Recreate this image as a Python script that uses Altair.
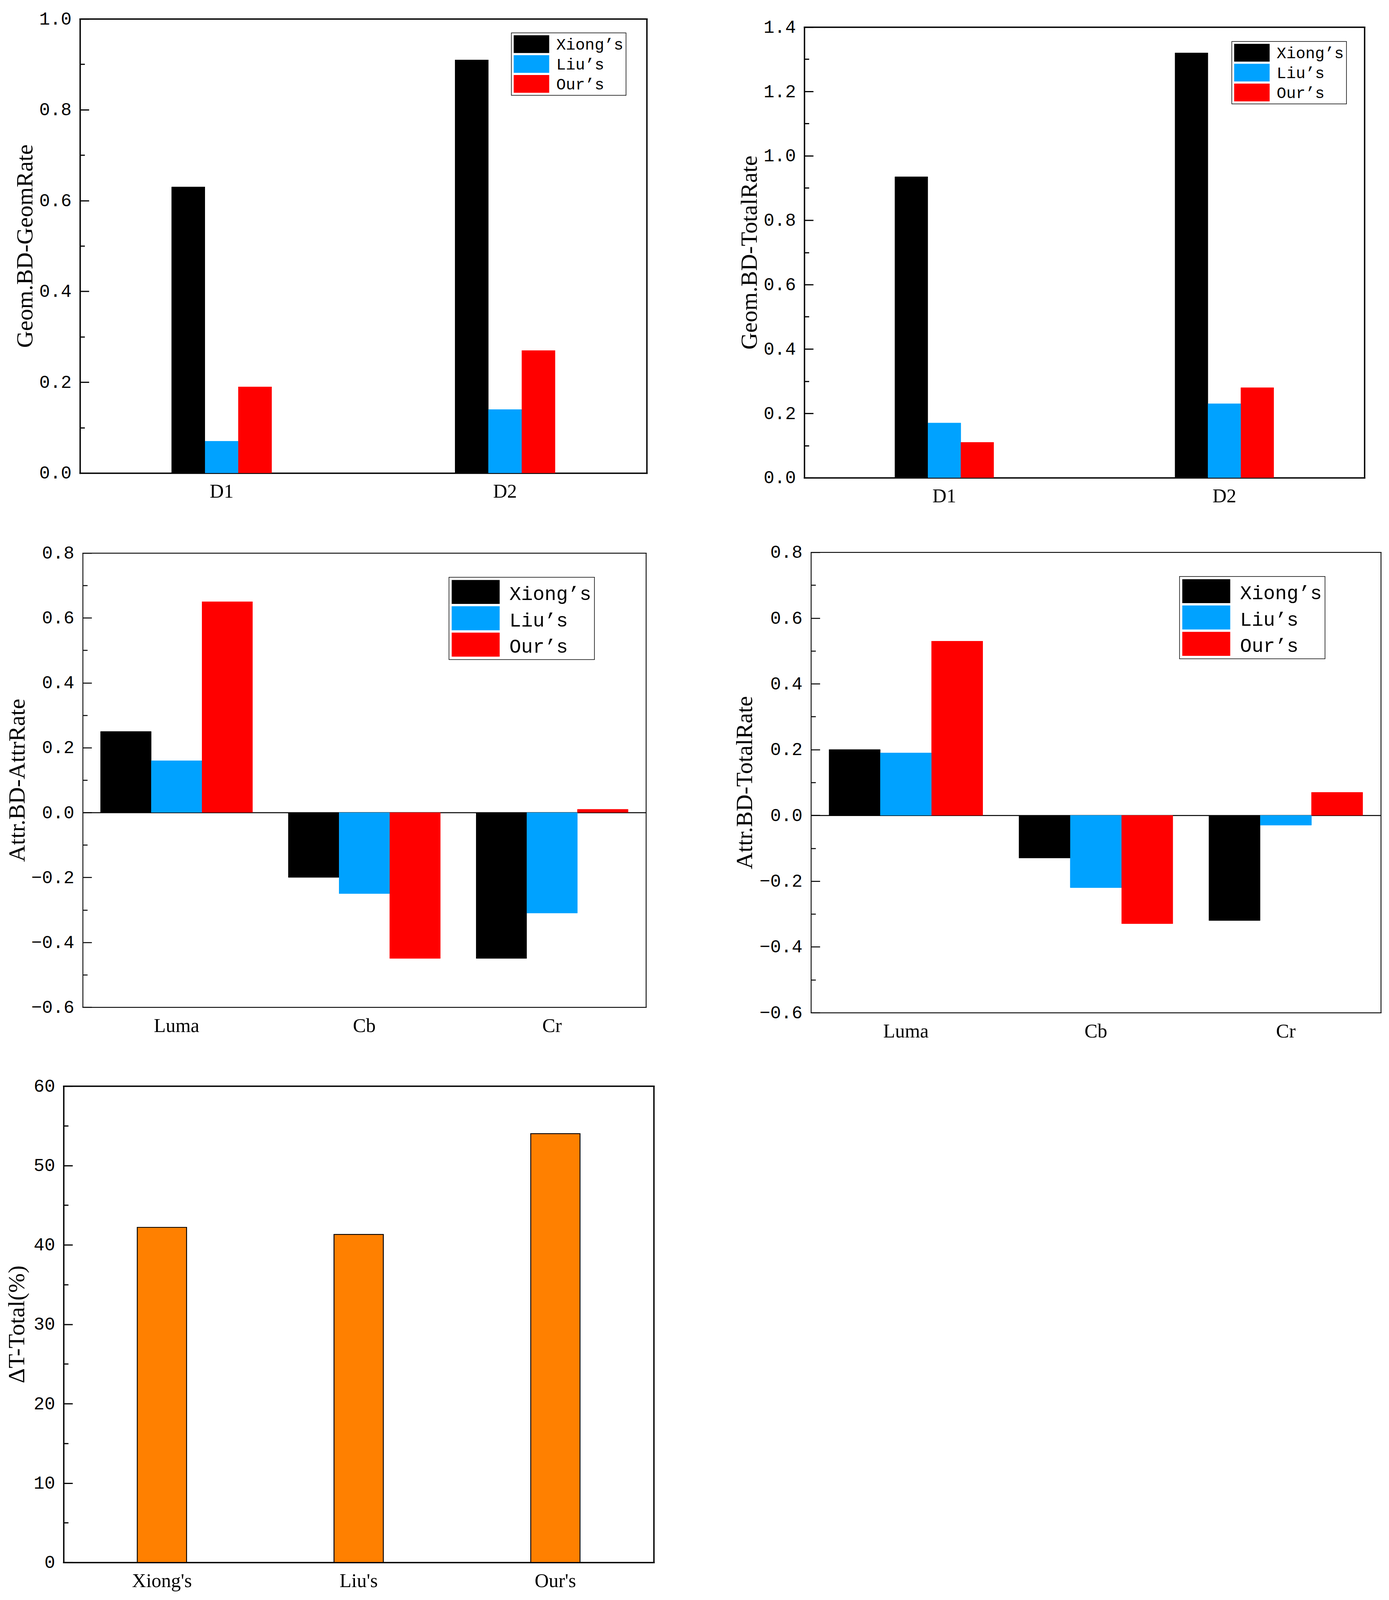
import altair as alt
import pandas as pd

# ---------------- data ----------------
methods = ["Xiong’s", "Liu’s", "Our’s"]
method_colors = ["#000000", "#00A2FF", "#FF0000"]

geom_cats = ["D1", "D2"]
geom_rate_xiong = [0.63, 0.91]
geom_rate_liu = [0.07, 0.14]
geom_rate_our = [0.19, 0.27]

geom_total_xiong = [0.935, 1.32]
geom_total_liu = [0.17, 0.23]
geom_total_our = [0.11, 0.28]

attr_cats = ["Luma", "Cb", "Cr"]
attr_rate_xiong = [0.25, -0.20, -0.45]
attr_rate_liu = [0.16, -0.25, -0.31]
attr_rate_our = [0.65, -0.45, 0.01]

attr_total_xiong = [0.20, -0.13, -0.32]
attr_total_liu = [0.19, -0.22, -0.03]
attr_total_our = [0.53, -0.33, 0.07]

total_methods = ["Xiong's", "Liu's", "Our's"]
delta_t_total = [42.2, 41.3, 54.0]

# axis tick values
ticks_10 = [0.0, 0.1, 0.2, 0.3, 0.4, 0.5, 0.6, 0.7, 0.8, 0.9, 1.0]
major_10 = [0.0, 0.2, 0.4, 0.6, 0.8, 1.0]
ticks_14 = [0.0, 0.1, 0.2, 0.3, 0.4, 0.5, 0.6, 0.7, 0.8, 0.9, 1.0, 1.1, 1.2, 1.3, 1.4]
major_14 = [0.0, 0.2, 0.4, 0.6, 0.8, 1.0, 1.2, 1.4]
ticks_attr = [-0.6, -0.5, -0.4, -0.3, -0.2, -0.1, 0.0, 0.1, 0.2, 0.3, 0.4, 0.5, 0.6, 0.7, 0.8]
major_attr = [-0.6, -0.4, -0.2, 0.0, 0.2, 0.4, 0.6, 0.8]
ticks_pct = [0, 5, 10, 15, 20, 25, 30, 35, 40, 45, 50, 55, 60]
major_pct = [0, 10, 20, 30, 40, 50, 60]

# ---------------- layout (pixel frame of each panel on the canvas) ----------------
W, H = 3545, 4090
FRAMES = {               # x0, x1, y_top, y_bottom
    "p1": (197, 1650, 38, 1202),
    "p2": (2054, 3490, 59, 1214),
    "p3": (204, 1648, 1407, 2571),
    "p4": (2071, 3532, 1405, 2585),
    "p5": (155, 1668, 2773, 3994),
}

SERIF = "Liberation Serif"
MONO = "Liberation Mono"
SWATCH = "M-1,-1H1V0H-1Z"


def long_df(cats, xs, ls, os_):
    rows = []
    for i, c in enumerate(cats):
        for m, v in zip(methods, (xs[i], ls[i], os_[i])):
            rows.append({"cat": c, "method": m, "value": v})
    return pd.DataFrame(rows)


def panel(df, cats, frame, ydomain, major, minor, test, title, tp, fmt,
          pi, po, fw, tick_w, mark_kw, color=None, xoff=None, zero=False):
    x0, x1, yt, yb = frame
    xscale = alt.Scale(range=[x0, x1], paddingInner=pi, paddingOuter=po)
    yscale = alt.Scale(domain=ydomain, nice=False, range=[yb, yt])
    dom = dict(domain=True, domainColor="black", domainWidth=fw, domainCap="square")

    # layer 1: bars, bottom axis (labels + bottom frame), left axis (labels + title + left frame)
    x_a = alt.X("cat:N", sort=cats, scale=xscale, axis=alt.Axis(
        orient="bottom", offset=yb - H, title=None, labelAngle=0, labelFont=SERIF,
        labelFontSize=50, labelColor="black", ticks=False, tickSize=0, labelPadding=23,
        grid=False, **dom))
    y_a = alt.Y("value:Q", scale=yscale, axis=alt.Axis(
        orient="left", offset=-x0, title=title, titleFont=SERIF, titleFontSize=60,
        titleFontWeight="normal", titleColor="black", titlePadding=tp,
        values=major, format=fmt, labelFont=MONO, labelFontSize=46, labelColor="black",
        labelPadding=22, ticks=False, tickSize=0, grid=False, labelOverlap=False,
        labelFlush=False, **dom))
    # layer 2: top frame + inward ticks
    x_b = alt.X("cat:N", sort=cats, scale=xscale, axis=alt.Axis(
        orient="top", offset=-yt, title=None, labels=False, ticks=False, grid=False, **dom))
    y_b = alt.Y("value:Q", scale=yscale, axis=alt.Axis(
        orient="right", offset=x0 - W, title=None, labels=False, domain=False, grid=False,
        ticks=True, values=minor, tickColor="black", tickWidth=tick_w,
        tickSize={"condition": {"test": test, "value": 23}, "value": 12}))
    # layer 3: right frame (+ zero line)
    if zero:
        span = ydomain[1] - ydomain[0]
        yz = yb - (0 - ydomain[0]) / span * (yb - yt)
        x_c = alt.X("cat:N", sort=cats, scale=xscale, axis=alt.Axis(
            orient="bottom", offset=yz - H, title=None, labels=False, ticks=False, grid=False,
            domain=True, domainColor="black", domainWidth=2.5))
    else:
        x_c = alt.X("cat:N", sort=cats, scale=xscale, axis=None)
    y_c = alt.Y("value:Q", scale=yscale, axis=alt.Axis(
        orient="right", offset=x1 - W, title=None, labels=False, ticks=False, grid=False, **dom))

    layers = []
    for xe, ye in ((x_a, y_a), (x_b, y_b), (x_c, y_c)):
        enc = dict(x=xe, y=ye)
        if xoff is not None:
            enc["xOffset"] = xoff
        if color is not None:
            enc["color"] = color
        layers.append(alt.Chart(df).mark_bar(**mark_kw).encode(**enc))
    return alt.layer(*layers).resolve_axis(x="independent", y="independent")


def grouped(df, cats, key, ydomain, major, minor, title, tp, pi, po, fw, tick_w,
            lx, ly, sym_w, lfont, lrow, lpad, loff, zero=False):
    x0, x1, yt, yb = FRAMES[key]
    legend = alt.Legend(
        title=None, orient="none", legendX=x0 + lx, legendY=yt + ly, direction="vertical",
        symbolType=SWATCH, symbolSize=sym_w * sym_w, symbolStrokeWidth=0, symbolOpacity=1,
        labelFont=MONO, labelFontSize=lfont, labelColor="black", labelOffset=loff,
        labelBaseline="bottom", labelLimit=500, rowPadding=lrow, padding=lpad,
        strokeColor="black", fillColor="white",
    )
    color = alt.Color("method:N", sort=methods,
                      scale=alt.Scale(domain=methods, range=method_colors), legend=legend)
    xoff = alt.XOffset("method:N", sort=methods,
                       scale=alt.Scale(paddingInner=0, paddingOuter=0))
    return panel(df, cats, FRAMES[key], ydomain, major, minor,
                 "abs(round(datum.value * 10)) % 2 == 0", title, tp, ".1f",
                 pi, po, fw, tick_w, {}, color=color, xoff=xoff, zero=zero)


p1 = grouped(long_df(geom_cats, geom_rate_xiong, geom_rate_liu, geom_rate_our),
             geom_cats, "p1", [0, 1.0], major_10, ticks_10, "Geom.BD-GeomRate", 5,
             0.647, 0.3235, 3.5, 3, lx=1106, ly=36, sym_w=91, lfont=41, lrow=5, lpad=6, loff=18)
p2 = grouped(long_df(geom_cats, geom_total_xiong, geom_total_liu, geom_total_our),
             geom_cats, "p2", [0, 1.4], major_14, ticks_14, "Geom.BD-TotalRate", 5,
             0.647, 0.3235, 3.5, 3, lx=1096, ly=37, sym_w=91, lfont=41, lrow=5, lpad=6, loff=18)
p3 = grouped(long_df(attr_cats, attr_rate_xiong, attr_rate_liu, attr_rate_our),
             attr_cats, "p3", [-0.6, 0.8], major_attr, ticks_attr, "Attr.BD-AttrRate", 4,
             0.19, 0.095, 2.2, 2.5, lx=939, ly=62, sym_w=123, lfont=50, lrow=5.5, lpad=7,
             loff=25, zero=True)
p4 = grouped(long_df(attr_cats, attr_total_xiong, attr_total_liu, attr_total_our),
             attr_cats, "p4", [-0.6, 0.8], major_attr, ticks_attr, "Attr.BD-TotalRate", 6,
             0.19, 0.095, 2.2, 2.5, lx=945, ly=62, sym_w=123, lfont=50, lrow=5.5, lpad=7,
             loff=25, zero=True)

df5 = pd.DataFrame({"cat": total_methods, "value": delta_t_total})
p5 = panel(df5, total_methods, FRAMES["p5"], [0, 60], major_pct, ticks_pct,
           "datum.value % 10 == 0", "ΔT-Total(%)", 11, "d", 0.75, 0.375, 3.5, 3,
           {"color": "#FF8000", "stroke": "black", "strokeWidth": 2})

chart = alt.layer(p1, p2, p3, p4, p5).resolve_scale(
    x="independent", y="independent", color="independent", xOffset="independent"
).resolve_axis(
    x="independent", y="independent"
).resolve_legend(
    color="independent"
).properties(
    width=W, height=H, padding=0, background="white"
).configure_view(
    strokeWidth=0, fill="white"
).configure_legend(
    strokeWidth=1.5
)

chart.save("out.html", embed_options={"renderer": "svg", "actions": False})
